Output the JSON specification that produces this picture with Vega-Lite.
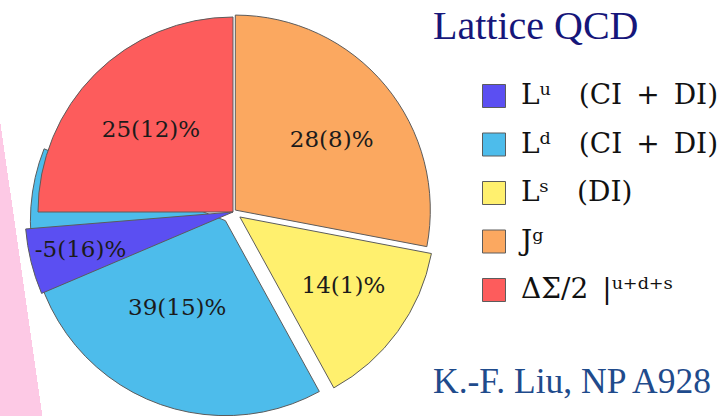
{
  "$schema": "https://vega.github.io/schema/vega-lite/v6.json",
  "width": 722,
  "height": 416,
  "autosize": {"type": "none"},
  "padding": 0,
  "background": "white",
  "view": {
    "stroke": null,
    "fill": {
      "gradient": "linear",
      "x1": -0.0498, "y1": 0.2926, "x2": 0.0498, "y2": 0.2844,
      "stops": [
        {"offset": 0, "color": "#fdc9e5"},
        {"offset": 0.5, "color": "#fdc9e5"},
        {"offset": 0.5, "color": "#ffffff"},
        {"offset": 1, "color": "#ffffff"}
      ]
    }
  },
  "title": {
    "text": "Lattice QCD",
    "subtitle": "K.-F. Liu, NP A928",
    "orient": "top",
    "anchor": "start",
    "frame": "group",
    "dx": 433,
    "offset": -400,
    "font": "Liberation Serif",
    "fontSize": 40,
    "fontWeight": "normal",
    "color": "#16167a",
    "subtitleFont": "Liberation Serif",
    "subtitleFontSize": 35.5,
    "subtitleColor": "#1f4b8c",
    "subtitlePadding": 318
  },
  "data": {
    "values": [
      {"id": "Jg", "part": "Jᵍ", "label": "28(8)%", "start": 0, "end": 28, "explode": 3},
      {"id": "Ls", "part": "Lˢ (DI)", "label": "14(1)%", "start": 28, "end": 42, "explode": 8.5},
      {"id": "Ld", "part": "Lᵈ (CI + DI)", "label": "39(15)%", "start": 42, "end": 81, "explode": 11.5},
      {"id": "DS", "part": "ΔΣ/2 |ᵘ⁺ᵈ⁺ˢ", "label": "25(12)%", "start": 75, "end": 100, "explode": 0},
      {"id": "Lu", "part": "Lᵘ (CI + DI)", "label": "-5(16)%", "start": 68.6, "end": 73.7, "explode": 0}
    ]
  },
  "transform": [
    {"calculate": "(datum.start + datum.end) / 2", "as": "mid"},
    {"calculate": "datum.explode * sin(2 * PI * datum.mid / 100)", "as": "ex"},
    {"calculate": "datum.explode * cos(2 * PI * datum.mid / 100)", "as": "ey"}
  ],
  "encoding": {
    "x": {"field": "ex", "type": "quantitative", "scale": {"domain": [-233, 489], "nice": false, "zero": false}, "axis": null},
    "y": {"field": "ey", "type": "quantitative", "scale": {"domain": [-204, 212], "nice": false, "zero": false}, "axis": null}
  },
  "layer": [
    {
      "transform": [{"filter": "datum.id !== 'Lu'"}],
      "mark": {"type": "arc", "radius": 195, "stroke": "#5c5c5c", "strokeWidth": 1, "opacity": 1},
      "encoding": {
        "theta": {"field": "start", "type": "quantitative", "scale": {"domain": [0, 100]}},
        "theta2": {"field": "end"},
        "color": {
          "field": "part", "type": "nominal",
          "scale": {
            "domain": ["Lᵘ (CI + DI)", "Lᵈ (CI + DI)", "Lˢ (DI)", "Jᵍ", "ΔΣ/2 |ᵘ⁺ᵈ⁺ˢ"],
            "range": ["#5b4ff2", "#4dbceb", "#fff06e", "#fba860", "#fd5c5c"]
          },
          "legend": {
            "orient": "none",
            "legendX": 480,
            "legendY": 82,
            "title": null,
            "symbolType": "square",
            "symbolSize": 529,
            "symbolStrokeColor": "#555555",
            "symbolStrokeWidth": 1,
            "symbolOpacity": 1,
            "labelFont": "DejaVu Serif",
            "labelFontSize": 28,
            "labelColor": "#111111",
            "labelOffset": 13,
            "labelLimit": 400,
            "rowPadding": 20.5,
            "padding": 0,
            "labelExpr": "replace(replace(replace(datum.label, ' (', '\u2003('), ' + ', '\u2002+\u2002'), ' |', '\u2002|')"
          }
        }
      }
    },
    {
      "transform": [{"filter": "datum.id === 'Lu'"}],
      "mark": {"type": "arc", "radius": 208, "stroke": "#5c5c5c", "strokeWidth": 1, "opacity": 1},
      "encoding": {
        "theta": {"field": "start", "type": "quantitative", "scale": {"domain": [0, 100]}},
        "theta2": {"field": "end"},
        "color": {"field": "part", "type": "nominal"}
      }
    },
    {
      "transform": [{"filter": "datum.id === 'DS'"}],
      "mark": {"type": "text", "radius": 116, "font": "DejaVu Serif", "fontSize": 23, "color": "#1b1b1b"},
      "encoding": {
        "theta": {"field": "mid", "type": "quantitative", "scale": {"domain": [0, 100]}},
        "text": {"field": "label"}
      }
    },
    {
      "transform": [{"filter": "datum.id === 'Jg'"}],
      "mark": {"type": "text", "radius": 125, "font": "DejaVu Serif", "fontSize": 23, "color": "#1b1b1b", "dy": 10},
      "encoding": {
        "theta": {"field": "mid", "type": "quantitative", "scale": {"domain": [0, 100]}},
        "text": {"field": "label"}
      }
    },
    {
      "transform": [{"filter": "datum.id === 'Ls'"}],
      "mark": {"type": "text", "radius": 128, "font": "DejaVu Serif", "fontSize": 23, "color": "#1b1b1b", "dy": -6},
      "encoding": {
        "theta": {"field": "mid", "type": "quantitative", "scale": {"domain": [0, 100]}},
        "text": {"field": "label"}
      }
    },
    {
      "transform": [{"filter": "datum.id === 'Ld'"}],
      "mark": {"type": "text", "radius": 100, "font": "DejaVu Serif", "fontSize": 23, "color": "#1b1b1b", "dx": 18, "dy": 12},
      "encoding": {
        "theta": {"field": "mid", "type": "quantitative", "scale": {"domain": [0, 100]}},
        "text": {"field": "label"}
      }
    },
    {
      "transform": [{"filter": "datum.id === 'Lu'"}],
      "mark": {"type": "text", "radius": 157, "font": "DejaVu Serif", "fontSize": 23, "color": "#1b1b1b"},
      "encoding": {
        "theta": {"field": "mid", "type": "quantitative", "scale": {"domain": [0, 100]}},
        "text": {"field": "label"}
      }
    }
  ]
}
